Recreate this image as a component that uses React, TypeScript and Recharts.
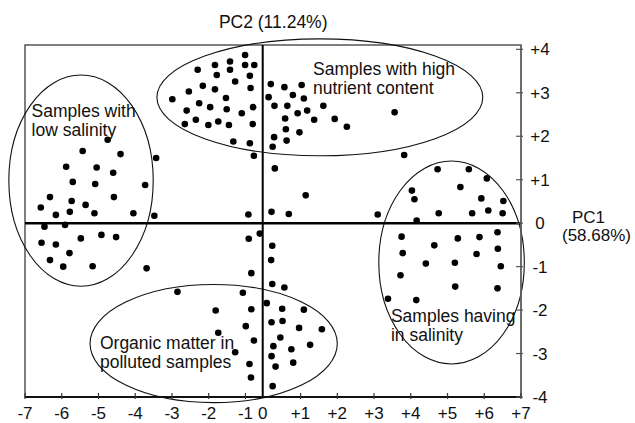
import React from 'react';
import { ScatterChart, Scatter, XAxis, YAxis, ReferenceLine, ReferenceArea, ReferenceDot } from 'recharts';

// x is kept in axis units: -7..-1 and +1..+7 are evenly spaced,
// but -1 and +1 sit 1.5 units apart and the "0" tick falls between them
const xTicks = [-7, -6, -5, -4, -3, -2, -1, -0.53, 0.5, 1.5, 2.5, 3.5, 4.5, 5.5, 6.5];
const xTickLabels = ['-7', '-6', '-5', '-4', '-3', '-2', '-1', '0', '+1', '+2', '+3', '+4', '+5', '+6', '+7'];
const yTicks = [-4, -3, -2, -1, 0, 1, 2, 3, 4];
const yTickLabels = ['-4', '-3', '-2', '-1', '0', '+1', '+2', '+3', '+4'];
const xZero = -0.53;

// samples with high nutrient content (top)
const nutrientPts = [
  { x: -1.01, y: 3.87 }, { x: -1.83, y: 3.64 }, { x: -1.42, y: 3.72 }, { x: -1.01, y: 3.64 },
  { x: -0.76, y: 3.64 }, { x: -2.3, y: 3.53 }, { x: -1.78, y: 3.41 }, { x: -1.42, y: 3.53 },
  { x: -0.88, y: 3.39 }, { x: -2.16, y: 3.16 }, { x: -1.83, y: 3.08 }, { x: -1.28, y: 3.26 },
  { x: -0.86, y: 3.11 }, { x: -2.54, y: 3.03 }, { x: -2.99, y: 2.85 }, { x: -1.53, y: 2.88 },
  { x: -2.26, y: 2.76 }, { x: -1.96, y: 2.67 }, { x: -1.51, y: 2.62 }, { x: -1.1, y: 2.53 },
  { x: -0.79, y: 2.67 }, { x: -2.6, y: 2.59 }, { x: -2.35, y: 2.38 }, { x: -2.65, y: 2.28 },
  { x: -2.01, y: 2.26 }, { x: -1.74, y: 2.34 }, { x: -1.45, y: 2.26 }, { x: -0.8, y: 2.28 },
  { x: -1.33, y: 1.88 }, { x: -0.88, y: 1.84 }, { x: -0.77, y: 1.55 },
  { x: -0.31, y: 3.2 }, { x: 0.06, y: 3.13 }, { x: 0.53, y: 3.18 }, { x: -0.37, y: 2.9 },
  { x: 0.29, y: 2.95 }, { x: 0.59, y: 2.87 }, { x: -0.21, y: 2.7 }, { x: 0.14, y: 2.7 },
  { x: 0.42, y: 2.53 }, { x: 0.68, y: 2.59 }, { x: 0.08, y: 2.41 }, { x: 0.87, y: 2.38 },
  { x: 0.1, y: 2.16 }, { x: 0.47, y: 2.09 }, { x: -0.22, y: 1.98 }, { x: 0.12, y: 1.9 },
  { x: -0.26, y: 1.76 }, { x: 1.12, y: 2.7 }, { x: 1.43, y: 2.4 }, { x: 1.76, y: 2.22 },
  { x: 3.06, y: 2.55 },
];

// samples with low salinity (left)
const lowSalinityPts = [
  { x: -4.75, y: 1.92 }, { x: -5.43, y: 1.66 }, { x: -4.4, y: 1.59 }, { x: -3.43, y: 1.5 },
  { x: -5.88, y: 1.3 }, { x: -5.05, y: 1.28 }, { x: -4.6, y: 1.16 }, { x: -5.7, y: 0.95 },
  { x: -5.09, y: 0.9 }, { x: -3.73, y: 0.88 }, { x: -6.32, y: 0.6 }, { x: -5.73, y: 0.51 },
  { x: -4.58, y: 0.6 }, { x: -6.57, y: 0.36 }, { x: -5.35, y: 0.42 }, { x: -6.16, y: 0.19 },
  { x: -5.78, y: 0.26 }, { x: -5.11, y: 0.23 }, { x: -4.05, y: 0.23 }, { x: -3.48, y: 0.17 },
  { x: -6.47, y: -0.08 }, { x: -5.91, y: -0.04 }, { x: -6.55, y: -0.45 }, { x: -6.16, y: -0.49 },
  { x: -5.48, y: -0.35 }, { x: -4.92, y: -0.27 }, { x: -4.52, y: -0.32 }, { x: -5.79, y: -0.69 },
  { x: -6.32, y: -0.85 }, { x: -5.96, y: -1.0 }, { x: -5.16, y: -0.99 }, { x: -3.69, y: -1.04 },
];

// organic matter in polluted samples (bottom)
const pollutedPts = [
  { x: -0.27, y: -1.4 }, { x: 0.06, y: -1.48 }, { x: -1.07, y: -1.6 }, { x: -0.42, y: -1.84 },
  { x: -1.81, y: -2.01 }, { x: -0.84, y: -1.98 }, { x: 0.0, y: -1.97 }, { x: 0.59, y: -1.99 },
  { x: -0.29, y: -2.28 }, { x: 0.01, y: -2.25 }, { x: -0.99, y: -2.37 }, { x: 0.46, y: -2.41 },
  { x: 1.08, y: -2.44 }, { x: -1.74, y: -2.52 }, { x: -0.05, y: -2.63 }, { x: -0.77, y: -2.7 },
  { x: -0.24, y: -2.83 }, { x: 0.76, y: -2.8 }, { x: 0.25, y: -2.9 }, { x: -1.28, y: -2.97 },
  { x: -0.29, y: -3.06 }, { x: 0.3, y: -3.21 }, { x: -0.89, y: -3.24 }, { x: -0.18, y: -3.3 },
  { x: -0.85, y: -3.55 }, { x: -0.26, y: -3.75 },
];

// samples having in salinity (right)
const salinityPts = [
  { x: 4.23, y: 1.24 }, { x: 5.08, y: 1.24 }, { x: 5.57, y: 1.03 }, { x: 4.85, y: 0.83 },
  { x: 3.53, y: 0.75 }, { x: 3.6, y: 0.55 }, { x: 5.42, y: 0.57 }, { x: 6.02, y: 0.51 },
  { x: 4.26, y: 0.23 }, { x: 5.17, y: 0.23 }, { x: 5.61, y: 0.29 }, { x: 6.0, y: 0.23 },
  { x: 3.66, y: 0.06 }, { x: 3.25, y: -0.31 }, { x: 4.78, y: -0.35 }, { x: 5.37, y: -0.32 },
  { x: 5.86, y: -0.21 }, { x: 4.14, y: -0.51 }, { x: 3.28, y: -0.69 }, { x: 5.29, y: -0.71 },
  { x: 5.87, y: -0.59 }, { x: 3.91, y: -0.93 }, { x: 4.7, y: -0.91 }, { x: 5.95, y: -0.99 },
  { x: 3.22, y: -1.2 }, { x: 4.71, y: -1.46 }, { x: 5.86, y: -1.5 }, { x: 2.88, y: -1.74 },
  { x: 3.65, y: -1.77 },
];

// samples outside the groups
const otherPts = [
  { x: -0.2, y: 1.26 }, { x: 0.64, y: 0.64 }, { x: -0.29, y: 0.26 }, { x: 0.18, y: 0.21 },
  { x: -0.92, y: 0.2 }, { x: 3.32, y: 1.57 }, { x: 2.6, y: 0.2 }, { x: -0.91, y: -0.36 },
  { x: -0.61, y: -0.24 }, { x: -0.27, y: -0.52 }, { x: -0.3, y: -0.85 }, { x: -0.84, y: -1.15 },
  { x: -2.85, y: -1.58 },
];

// group outlines (bounding boxes, axis units)
const groupBounds = [
  { x1: -3.41, x2: 5.46, y1: 1.55, y2: 4.24 },
  { x1: -7.44, x2: -3.51, y1: -1.45, y2: 3.41 },
  { x1: -5.23, x2: 1.5, y1: -4.13, y2: -1.41 },
  { x1: 2.63, x2: 6.59, y1: -3.24, y2: 1.43 },
];

const groupNotes = [
  { x: -6.82, y: 2.45, lines: ['Samples with', 'low salinity'] },
  { x: 0.84, y: 3.41, lines: ['Samples with high', 'nutrient content'] },
  { x: -4.96, y: -2.9, lines: ['Organic matter in', 'polluted samples'] },
  { x: 2.96, y: -2.27, lines: ['Samples having', 'in salinity'] },
];

const FONT = '"Liberation Sans", Arial, sans-serif';
const INK = '#111';

const Dot = (p: any) => <circle cx={p.cx} cy={p.cy} r={3.3} fill="#000" />;

const BottomTick = (p: any) => {
  const i = xTicks.indexOf(p.payload.value);
  return (
    <g>
      {i !== 7 && <line x1={p.x} y1={p.y - 4} x2={p.x} y2={p.y + 2} stroke="#333" strokeWidth={1.2} />}
      <text x={p.x} y={p.y + 22} textAnchor="middle" fontSize={17} fontFamily={FONT} fill={INK}>
        {xTickLabels[i]}
      </text>
    </g>
  );
};

const RightTick = (p: any) => {
  const i = yTicks.indexOf(p.payload.value);
  return (
    <g>
      <line x1={p.x - 5} y1={p.y} x2={p.x + 2} y2={p.y} stroke="#555" strokeWidth={1.2} />
      <text x={p.x + 19} y={p.y + 6} textAnchor="middle" fontSize={17} fontFamily={FONT} fill={INK}>
        {yTickLabels[i]}
      </text>
    </g>
  );
};

const EllipseShape = (p: any) => (
  <ellipse
    cx={p.x + p.width / 2}
    cy={p.y + p.height / 2}
    rx={p.width / 2}
    ry={p.height / 2}
    fill="none"
    stroke={INK}
    strokeWidth={1.1}
  />
);

const noteShape = (lines: string[]) => (p: any) => (
  <text x={p.cx} y={p.cy} fontSize={17.5} fontFamily={FONT} fill={INK}>
    {lines.map((l, i) => (
      <tspan key={i} x={p.cx} dy={i === 0 ? 0 : 19}>{l}</tspan>
    ))}
  </text>
);

const Pc2Label = (p: any) => (
  <text x={p.cx + 10.5} y={p.cy - 17} textAnchor="middle" fontSize={17.5} fontFamily={FONT} fill={INK}>
    PC2 (11.24%)
  </text>
);

const Pc1Label = (p: any) => (
  <text fontSize={17} fontFamily={FONT} fill={INK}>
    <tspan x={p.cx + 51} y={p.cy}>PC1</tspan>
    <tspan x={p.cx + 41} y={p.cy + 18}>(58.68%)</tspan>
  </text>
);

export default function App() {
  return (
    <div style={{ position: 'absolute', left: 0, top: 0, background: '#fff' }}>
      <ScatterChart width={635} height={423} margin={{ top: 45, right: 0, bottom: 0, left: 25 }}>
        <XAxis
          type="number"
          dataKey="x"
          domain={[-7, 6.5]}
          ticks={xTicks}
          interval={0}
          tickSize={0}
          tickMargin={0}
          tick={BottomTick}
          axisLine={{ stroke: INK, strokeWidth: 2 }}
          height={26}
          allowDataOverflow
        />
        <YAxis
          type="number"
          dataKey="y"
          orientation="right"
          domain={[-4, 4.1]}
          ticks={yTicks}
          interval={0}
          tickSize={0}
          tickMargin={0}
          tick={RightTick}
          axisLine={{ stroke: '#666', strokeWidth: 1.5 }}
          width={114}
          allowDataOverflow
        />
        <ReferenceArea x1={-7} x2={6.5} y1={-4} y2={4.1} fill="none" stroke="#555" strokeWidth={1.5} />
        <ReferenceLine x={xZero} stroke="#000" strokeWidth={2} />
        <ReferenceLine y={0} stroke="#000" strokeWidth={2.5} />
        {groupBounds.map((b, i) => (
          <ReferenceArea key={i} {...b} ifOverflow="visible" shape={EllipseShape} />
        ))}
        <Scatter data={nutrientPts} shape={Dot} isAnimationActive={false} />
        <Scatter data={lowSalinityPts} shape={Dot} isAnimationActive={false} />
        <Scatter data={pollutedPts} shape={Dot} isAnimationActive={false} />
        <Scatter data={salinityPts} shape={Dot} isAnimationActive={false} />
        <Scatter data={otherPts} shape={Dot} isAnimationActive={false} />
        {groupNotes.map((n, i) => (
          <ReferenceDot key={i} x={n.x} y={n.y} ifOverflow="visible" shape={noteShape(n.lines)} />
        ))}
        <ReferenceDot x={xZero} y={4.1} ifOverflow="visible" shape={Pc2Label} />
        <ReferenceDot x={6.5} y={0} ifOverflow="visible" shape={Pc1Label} />
      </ScatterChart>
    </div>
  );
}
